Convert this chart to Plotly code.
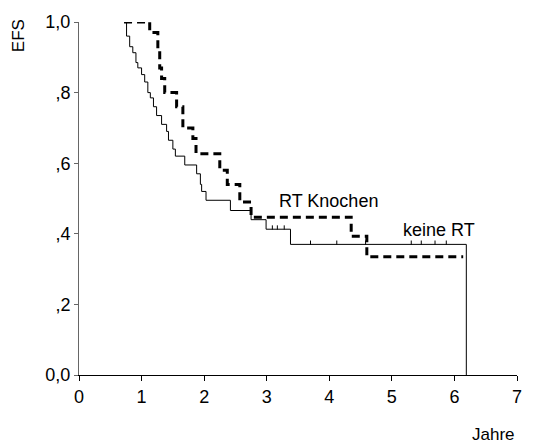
import plotly.graph_objects as go

# Kaplan-Meier step data (time in years, EFS)
keine_t = [0.73, 0.76, 0.81, 0.86, 0.91, 0.94, 1.00, 1.05, 1.10, 1.14, 1.19, 1.24, 1.32, 1.40,
           1.43, 1.50, 1.54, 1.69, 1.88, 1.94, 1.96, 2.03, 2.42, 2.75, 2.99, 3.38, 6.19]
keine_s = [1.00, 0.96, 0.93, 0.913, 0.885, 0.87, 0.851, 0.83, 0.80, 0.785, 0.76, 0.735, 0.71, 0.69,
           0.665, 0.64, 0.62, 0.595, 0.57, 0.54, 0.52, 0.495, 0.466, 0.44, 0.413, 0.37, 0.0]

rt_t = [0.72, 1.13, 1.26, 1.29, 1.32, 1.37, 1.56, 1.66, 1.82, 1.87, 2.25, 2.37, 2.57, 2.75, 4.35, 4.60, 6.14]
rt_s = [1.00, 0.97, 0.93, 0.87, 0.84, 0.80, 0.76, 0.70, 0.67, 0.627, 0.58, 0.54, 0.49, 0.447, 0.393, 0.335, 0.335]

# censored observations
keine_cens_t = [3.09, 3.17, 3.28, 3.70, 4.12, 4.58, 5.31, 5.47, 5.69, 5.87]
keine_cens_s = [0.413, 0.413, 0.413, 0.37, 0.37, 0.37, 0.37, 0.37, 0.37, 0.37]

x_ticks = [0, 1, 2, 3, 4, 5, 6, 7]
y_ticks = [0.0, 0.2, 0.4, 0.6, 0.8, 1.0]
y_ticktext = ["0,0", ",2", ",4", ",6", ",8", "1,0"]

FONT = "Liberation Sans, Arial, sans-serif"

W, H = 534, 446
L, R, T, B = 79, 15, 19, 71
pw, ph = W - L - R, H - T - B

fig = go.Figure()
fig.add_trace(go.Scatter(x=keine_t, y=keine_s, mode="lines", line_shape="hv",
                         line=dict(color="black", width=1), hoverinfo="skip"))
fig.add_trace(go.Scatter(x=keine_cens_t, y=[v + 0.005 for v in keine_cens_s], mode="markers",
                         marker=dict(symbol="line-ns-open", size=3, color="black",
                                     line=dict(color="black", width=1)),
                         hoverinfo="skip"))
fig.add_trace(go.Scatter(x=rt_t, y=rt_s, mode="lines", line_shape="hv",
                         line=dict(color="black", width=3, dash="8px,5px"), hoverinfo="skip"))

fig.add_annotation(x=3.99, y=0.494, text="RT Knochen", showarrow=False,
                   font=dict(family=FONT, size=18, color="black"), xref="x", yref="y")
fig.add_annotation(x=5.76, y=0.41, text="keine RT", showarrow=False,
                   font=dict(family=FONT, size=18, color="black"), xref="x", yref="y")
fig.add_annotation(x=(519 - L) / pw, y=(H - B - 435) / ph, text="Jahre", showarrow=False,
                   xref="paper", yref="paper", xanchor="right", yanchor="middle",
                   font=dict(family=FONT, size=17, color="black"))
fig.add_annotation(x=(19 - L) / pw, y=(H - B - 33) / ph, text="EFS", showarrow=False,
                   textangle=-90, xref="paper", yref="paper", xanchor="center", yanchor="middle",
                   font=dict(family=FONT, size=17, color="black"))

fig.update_layout(
    width=W, height=H,
    margin=dict(l=L, r=R, t=T, b=B, pad=0),
    paper_bgcolor="white", plot_bgcolor="white",
    showlegend=False,
    font=dict(family=FONT, size=18, color="black"),
    xaxis=dict(range=[0, 7], tickvals=x_ticks, ticktext=[str(v) for v in x_ticks],
               showgrid=False, zeroline=False, showline=True, linecolor="black", linewidth=1,
               ticks="outside", ticklen=5, tickcolor="black", tickwidth=1,
               tickfont=dict(family=FONT, size=18, color="black")),
    yaxis=dict(range=[0, 1], tickvals=y_ticks, ticktext=y_ticktext,
               showgrid=False, zeroline=False, showline=True, linecolor="#666", linewidth=1,
               ticks="outside", ticklen=4, tickcolor="#666", tickwidth=1,
               tickfont=dict(family=FONT, size=18, color="black")),
)

fig.write_html("out.html")
